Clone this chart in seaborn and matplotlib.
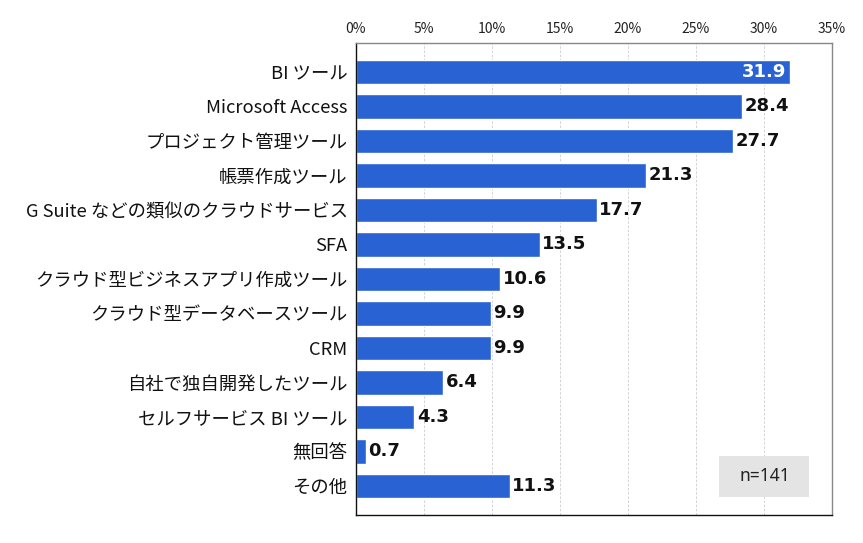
import matplotlib
matplotlib.use('Agg')
import matplotlib.pyplot as plt
import seaborn as sns
import pandas as pd
from matplotlib.patches import Rectangle
from matplotlib.ticker import MultipleLocator, FuncFormatter

categories = [
    'BI ツール', 'Microsoft Access', 'プロジェクト管理ツール', '帳票作成ツール',
    'G Suite などの類似のクラウドサービス', 'SFA', 'クラウド型ビジネスアプリ作成ツール',
    'クラウド型データベースツール', 'CRM', '自社で独自開発したツール',
    'セルフサービス BI ツール', '無回答', 'その他',
]
values = [31.9, 28.4, 27.7, 21.3, 17.7, 13.5, 10.6, 9.9, 9.9, 6.4, 4.3, 0.7, 11.3]
sample_note = 'n=141'

df = pd.DataFrame({'category': categories, 'value': values})

sns.set_theme(style='white')
plt.rcParams['font.family'] = ['Noto Sans CJK JP', 'DejaVu Sans']

fig = plt.figure(figsize=(8.63, 5.43), dpi=100)
ax = fig.add_axes([0.4125, 0.0516, 0.5515, 0.8692])

sns.barplot(data=df, x='value', y='category', color='#2962D3', saturation=1,
            width=0.72, ax=ax)

ax.set_xlim(0, 35)
ax.set_ylim(len(categories) - 1 + 0.84, -0.84)
ax.xaxis.set_major_locator(MultipleLocator(5))
ax.xaxis.set_major_formatter(FuncFormatter(lambda v, p: f'{int(v)}%'))
ax.xaxis.tick_top()
ax.tick_params(axis='x', labelsize=10, pad=5, length=0, colors='#222222')
ax.tick_params(axis='y', labelsize=13.2, pad=6, length=0, colors='#111111')
ax.set_xlabel('')
ax.set_ylabel('')

ax.grid(axis='x', linestyle=(0, (3, 2)), linewidth=0.6, color='#CCCCCC')
ax.set_axisbelow(True)
for side in ['left', 'bottom']:
    ax.spines[side].set_color('#111111')
    ax.spines[side].set_linewidth(1.0)
for side in ['top', 'right']:
    ax.spines[side].set_color('#888888')
    ax.spines[side].set_linewidth(1.0)

# value labels: first one sits inside the bar in white
for i, v in enumerate(values):
    if i == 0:
        ax.text(v - 0.3, i, f'{v}', ha='right', va='center', color='white',
                fontsize=13, fontweight='bold', family='DejaVu Sans')
    else:
        ax.text(v + 0.2, i, f'{v}', ha='left', va='center', color='#111111',
                fontsize=13, fontweight='bold', family='DejaVu Sans')

# sample size box, lower right
box_w, box_h = 0.189, 0.087
box_x, box_y = 0.7636, 0.0381
ax.add_patch(Rectangle((box_x, box_y), box_w, box_h, transform=ax.transAxes,
                       facecolor='#E4E4E4', edgecolor='none', zorder=3))
ax.text(box_x + box_w / 2, box_y + box_h / 2, sample_note, transform=ax.transAxes,
        ha='center', va='center', fontsize=12.5, color='#222222', zorder=4,
        family='Noto Sans')

plt.savefig('out.png', dpi=100)
